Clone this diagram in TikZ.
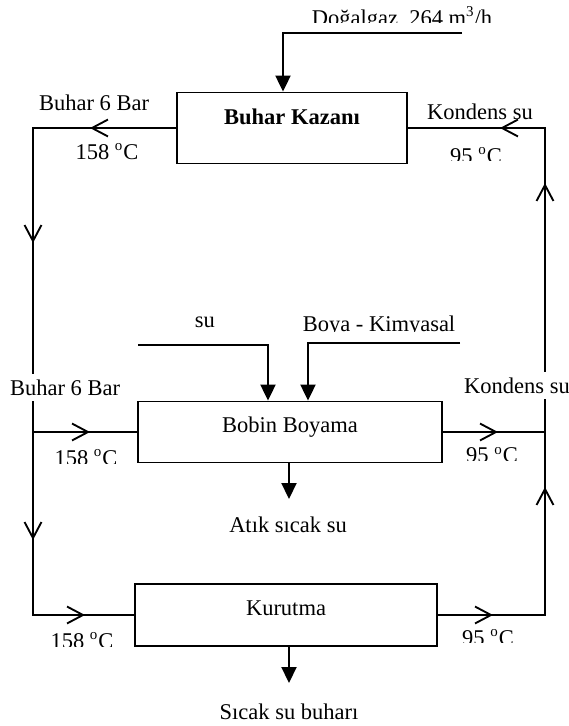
\documentclass[tikz,border=0pt]{standalone}
\usepackage{fontspec}
\setmainfont{Liberation Serif}
\usetikzlibrary{arrows.meta}
\begin{document}
\begin{tikzpicture}[x=0.5333pt,y=-0.5333pt, line width=1pt,
  box/.style={draw, rectangle, inner sep=0pt},
  lbl/.style={anchor=base, inner sep=0pt, font=\fontsize{12}{14}\selectfont},
  gaplbl/.style={lbl, fill=white, inner ysep=3pt, inner xsep=1pt},
  fillarr/.style={-{Triangle[width=8pt,length=8.5pt]}},
  chev/.style={-{Straight Barb[length=8.5pt,width=9pt]}}]
\useasboundingbox (0,0) rectangle (569,726);

% boxes
\node[box, minimum width={230*0.5333pt}, minimum height={71*0.5333pt}] (kazan) at (292,128) {};
\node[box, minimum width={304*0.5333pt}, minimum height={61*0.5333pt}] (bobin) at (290,432) {};
\node[box, minimum width={302*0.5333pt}, minimum height={62*0.5333pt}] (kurutma) at (286,615) {};

\node[lbl] (kazanlbl) at (292,124) {\textbf{Buhar Kazanı}};
\node[lbl] (bobinlbl) at (290,432) {Bobin Boyama};
\node[lbl] (kurutmalbl) at (286,615) {Kurutma};

% inputs
\coordinate (g0) at (462,33); \coordinate (g1) at (283,33);
\draw[fillarr] (g0) -- (g1) -- (g1 |- kazan.north);
\coordinate (s0) at (138,345); \coordinate (s1) at (268,345);
\draw[fillarr] (s0) -- (s1) -- (s1 |- bobin.north);
\coordinate (b0) at (460,343); \coordinate (b1) at (308,343);
\draw[fillarr] (b0) -- (b1) -- (b1 |- bobin.north);

% outputs
\coordinate (atik) at (289,499);
\draw[fillarr] (atik |- bobin.south) -- (atik);
\coordinate (kout) at (289,683);
\draw[fillarr] (kout |- kurutma.south) -- (kout);

% steam loop (left)
\coordinate (tl) at (33,128);
\coordinate (jb) at (33,432);
\coordinate (bl) at (33,615);
\draw (kazan.west) -- (tl) -- (bl) -- (kurutma.west);
\draw (jb) -- (bobin.west);
\coordinate (a1) at (90,128);  \draw[chev] (kazan.west) -- (a1);
\coordinate (a2) at (33,243);  \draw[chev] (tl) -- (a2);
\coordinate (a3) at (33,540);  \draw[chev] (jb) -- (a3);
\coordinate (a4) at (85,615);  \draw[chev] (bl) -- (a4);
\coordinate (a5) at (90,432); \draw[chev] (jb) -- (a5);

% condensate loop (right)
\coordinate (br) at (545,615);
\coordinate (jr) at (545,432);
\coordinate (tr) at (545,128);
\draw (kurutma.east) -- (br) -- (tr) -- (kazan.east);
\draw (bobin.east) -- (jr);
\coordinate (a6) at (493,615);  \draw[chev] (kurutma.east) -- (a6);
\coordinate (a7) at (545,487);  \draw[chev] (br) -- (a7);
\coordinate (a8) at (498,432); \draw[chev] (bobin.east) -- (a8);
\coordinate (a9) at (545,183);  \draw[chev] (jr) -- (a9);
\coordinate (a10) at (500,128); \draw[chev] (tr) -- (a10);

% labels
\begin{scope}
  \clip (300,0) rectangle (569,22.5);
  \node[lbl] (gaslbl) at (402,25) {Doğalgaz\ \ 264 m\textsuperscript{3}/h};
\end{scope}
\node[lbl] (buhar1) at (94,110.5) {Buhar 6 Bar};
\node[lbl] (t1) at (107,159) {158 \textsuperscript{o}C};
\node[lbl] (kond1) at (480,119) {Kondens su};
\begin{scope}
  \clip (420,140) rectangle (540,160);
  \node[lbl] (t2) at (476,163) {95 \textsuperscript{o}C};
\end{scope}

\node[lbl] (sulbl) at (205,327) {su};
\begin{scope}
  \clip (300,300) rectangle (460,331.5);
  \node[lbl] (boyalbl) at (379,331) {Boya - Kimyasal};
\end{scope}
\node[gaplbl] (buhar2) at (65,395) {Buhar 6 Bar};
\node[gaplbl] (kond2) at (517,393) {Kondens su};
\begin{scope}
  \clip (40,440) rectangle (130,463.5);
  \node[lbl] (t3) at (86,465) {158 \textsuperscript{o}C};
\end{scope}
\begin{scope}
  \clip (450,440) rectangle (540,460.5);
  \node[lbl] (t4) at (492,462.5) {95 \textsuperscript{o}C};
\end{scope}
\node[lbl] (atiklbl) at (288,532) {Atık sıcak su};

\begin{scope}
  \clip (40,620) rectangle (130,646);
  \node[lbl] (t5) at (82,648) {158 \textsuperscript{o}C};
\end{scope}
\begin{scope}
  \clip (450,620) rectangle (540,642.5);
  \node[lbl] (t6) at (488,645) {95 \textsuperscript{o}C};
\end{scope}
\node[lbl] (buharlbl) at (289,719) {Sıcak su buharı};
\end{tikzpicture}
\end{document}
